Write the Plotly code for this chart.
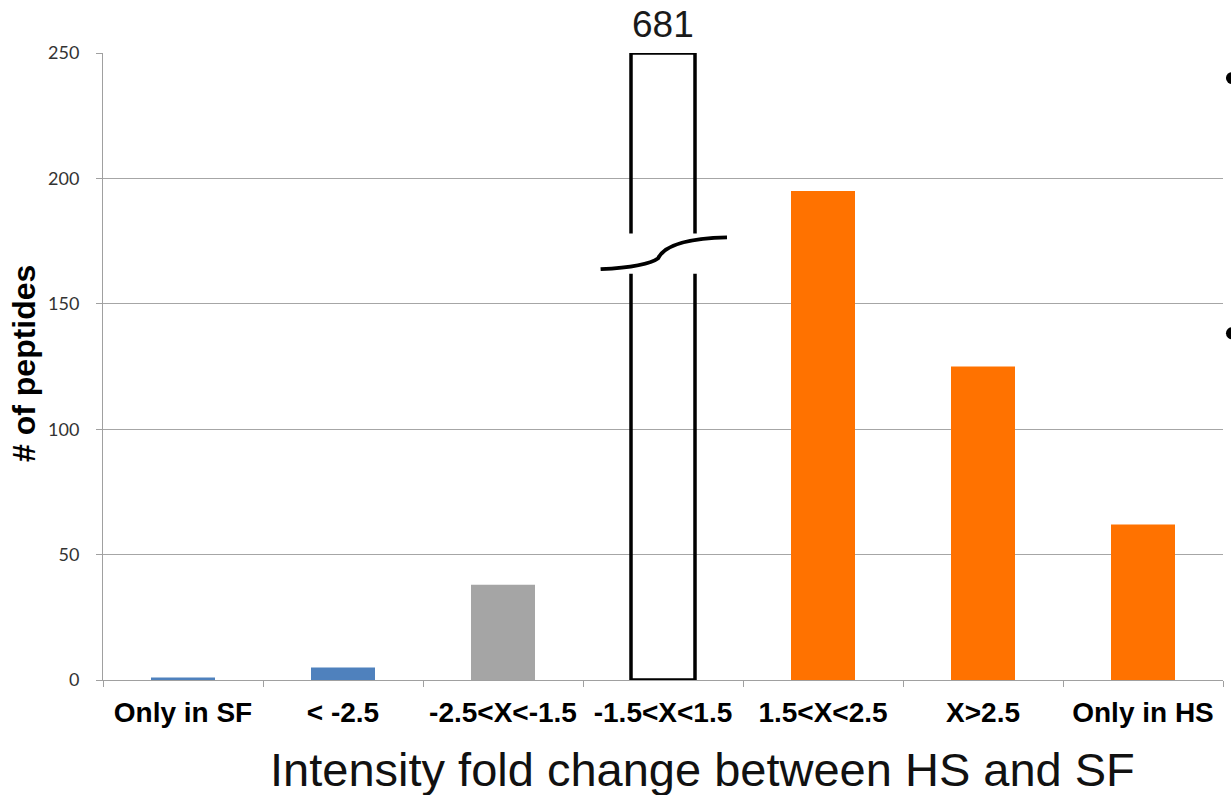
import plotly.graph_objects as go

# Peptide counts per fold-change bin (HS vs SF)
categories = ["Only in SF", "< -2.5", "-2.5<X<-1.5", "-1.5<X<1.5",
              "1.5<X<2.5", "X>2.5", "Only in HS"]
counts = [1, 5, 38, 681, 195, 125, 62]
fill_colors = ["#4F81BD", "#4F81BD", "#A5A5A5", "rgba(0,0,0,0)",
               "#FF7200", "#FF7200", "#FF7200"]
edge_colors = ["#4F81BD", "#4F81BD", "#A5A5A5", "#000000",
               "#FF7200", "#FF7200", "#FF7200"]
edge_widths = [0, 0, 0, 3.5, 0, 0, 0]

y_max = 250
y_ticks = [0, 50, 100, 150, 200, 250]
# axis break drawn across the off-scale bar
break_lo, break_hi = 162, 178

# bars taller than the axis are cut at its top and flagged with a break
shown = [min(v, y_max) for v in counts]
broken = [i for i, v in enumerate(counts) if v > y_max]

fig = go.Figure(go.Bar(
    x=categories, y=shown, width=0.4,
    marker=dict(color=fill_colors,
                line=dict(color=edge_colors, width=edge_widths)),
    hovertext=[str(v) for v in counts],
))

shapes = []
annotations = []
for i in broken:
    shapes.append(dict(type="rect", xref="x", yref="y",
                       x0=i - 0.3, x1=i + 0.3, y0=break_lo, y1=break_hi,
                       fillcolor="white", line=dict(width=0), layer="above"))
    path = (f"M {i-0.39},{break_lo+1.8} "
            f"Q {i-0.1},{break_lo+2.8} {i-0.03},{break_lo+6.2} "
            f"Q {i+0.03},{break_hi-2} {i+0.40},{break_hi-1.5}")
    shapes.append(dict(type="path", xref="x", yref="y", path=path,
                       line=dict(color="black", width=3.8), layer="above"))
    annotations.append(dict(x=categories[i], y=y_max, xref="x", yref="y",
                            text=str(counts[i]), showarrow=False,
                            yanchor="bottom", yshift=6,
                            font=dict(family="Liberation Sans", size=37,
                                      color="#1a1a1a")))

# bullet marks at the right edge of the slide
for yb in [0.960, 0.553]:
    shapes.append(dict(type="circle", xref="paper", yref="paper",
                       xsizemode="pixel", ysizemode="pixel",
                       xanchor=1.008, yanchor=yb,
                       x0=-6, x1=6, y0=-6, y1=6,
                       fillcolor="black", line=dict(width=0)))

annotations.append(dict(text="Intensity fold change between HS and SF",
                        xref="paper", yref="paper", x=0.535, y=-0.143,
                        xanchor="center", yanchor="middle", showarrow=False,
                        font=dict(family="Liberation Sans", size=47,
                                  color="#111111")))
annotations.append(dict(text="<b># of peptides</b>", textangle=-90,
                        xref="paper", yref="paper", x=-0.07, y=0.505,
                        xanchor="center", yanchor="middle", showarrow=False,
                        font=dict(family="Liberation Sans", size=32,
                                  color="#000000")))

fig.update_layout(
    width=1231, height=795,
    margin=dict(l=103, r=8, t=53, b=115),
    paper_bgcolor="white", plot_bgcolor="white",
    showlegend=False,
    shapes=shapes, annotations=annotations,
    xaxis=dict(type="category", tickson="boundaries", ticks="outside",
               ticklen=6, tickcolor="#A0A0A0", showline=True,
               linecolor="#A0A0A0", linewidth=1, showgrid=False,
               tickangle=0, ticklabelstandoff=7,
               tickfont=dict(family="Liberation Sans", size=28,
                             color="#000000", weight="bold")),
    yaxis=dict(range=[0, y_max], tickvals=y_ticks, ticks="outside",
               ticklen=6, tickcolor="#A0A0A0", showline=True,
               linecolor="#A0A0A0", linewidth=1, showgrid=True,
               gridcolor="#A6A6A6", gridwidth=1, zeroline=False,
               ticklabelstandoff=13,
               tickfont=dict(family="Lato", size=18, color="#333333")),
)

fig.write_html("out.html")
